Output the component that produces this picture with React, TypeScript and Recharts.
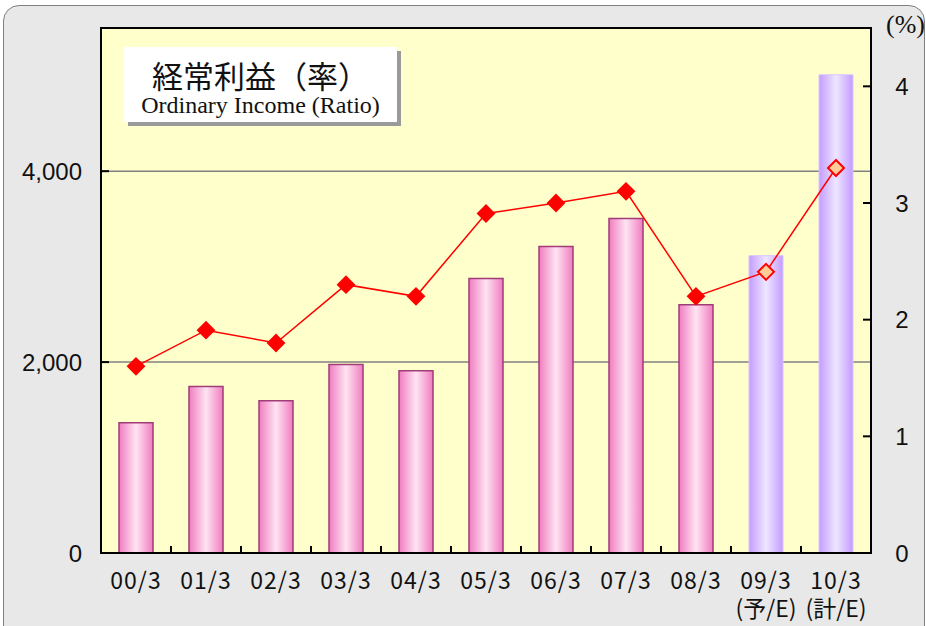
import React from 'react';
import { ComposedChart, Bar, Line, XAxis, YAxis, CartesianGrid, Cell, ReferenceArea } from 'recharts';

const categories = ['00/3', '01/3', '02/3', '03/3', '04/3', '05/3', '06/3', '07/3', '08/3', '09/3', '10/3'];
const subLabels = ['', '', '', '', '', '', '', '', '', '(予/E)', '(計/E)'];
const incomeValues = [1365, 1745, 1595, 1975, 1910, 2875, 3210, 3505, 2600, 3115, 5010];
const ratioValues = [1.6, 1.91, 1.8, 2.3, 2.2, 2.91, 3.0, 3.1, 2.2, 2.41, 3.3];
const isEstimate = [false, false, false, false, false, false, false, false, false, true, true];
const leftTicks = [0, 2000, 4000];
const rightTicks = [0, 1, 2, 3, 4];

const data = categories.map((c, i) => ({
  name: c,
  sub: subLabels[i],
  income: incomeValues[i],
  ratio: ratioValues[i],
  est: isEstimate[i],
}));

const AXIS_FONT = '"Noto Sans CJK JP", "Noto Sans", sans-serif';
const NUM_FONT = '"Liberation Sans", Arial, sans-serif';

const LeftTick = (props: any) => {
  const { x, y, payload } = props;
  return (
    <g>
      {payload.value !== 0 && <line x1={x} y1={y} x2={x + 8} y2={y} stroke="#000" strokeWidth={2} />}
      <text x={x - 19} y={y} dy="0.36em" textAnchor="end" fontSize={24} fontFamily={NUM_FONT} fill="#111">
        {payload.value.toLocaleString('en-US')}
      </text>
    </g>
  );
};

const RightTick = (props: any) => {
  const { x, y, payload } = props;
  return (
    <g>
      {payload.value !== 0 && <line x1={x} y1={y} x2={x - 8} y2={y} stroke="#000" strokeWidth={2} />}
      <text x={x + 31} y={y} dy="0.36em" textAnchor="middle" fontSize={24} fontFamily={NUM_FONT} fill="#111">
        {payload.value}
      </text>
    </g>
  );
};

const BottomTick = (props: any) => {
  const { x, y, payload, index, width, visibleTicksCount } = props;
  const n = visibleTicksCount || categories.length;
  const band = (typeof width === 'number' ? width : 770) / n;
  const sub = subLabels[index] || '';
  return (
    <g>
      {index < n - 1 && (
        <line x1={x + band / 2} y1={y} x2={x + band / 2} y2={y - 7} stroke="#000" strokeWidth={2} />
      )}
      <text x={x} y={y + 28} textAnchor="middle" fontSize={23} fontFamily={AXIS_FONT} fill="#111">
        <tspan x={x} dy="0.36em" letterSpacing={1}>{payload.value}</tspan>
        {sub && (
          <tspan x={x} dy={28}>{sub}</tspan>
        )}
      </text>
    </g>
  );
};

const Diamond = (props: any) => {
  const { cx, cy, index } = props;
  if (cx == null || cy == null) return null;
  const r = 8;
  const est = isEstimate[index];
  return (
    <path
      key={`d-${index}`}
      d={`M${cx},${cy - r}L${cx + r},${cy}L${cx},${cy + r}L${cx - r},${cy}Z`}
      fill={est ? '#FFCC99' : '#FF0000'}
      stroke="#FF0000"
      strokeWidth={2}
    />
  );
};

export default function App() {
  return (
    <div style={{ position: 'absolute', left: 0, top: 0, width: 926, height: 626, overflow: 'hidden', background: '#fff' }}>
      <div
        style={{
          position: 'absolute',
          left: 3,
          top: 5,
          width: 920,
          height: 660,
          border: '1.5px solid #808080',
          borderRadius: 16,
          background: '#E8E8E8',
        }}
      />
      <div style={{ position: 'absolute', left: 0, top: 0 }}>
        <ComposedChart width={926} height={626} data={data} margin={{ top: 28, right: 0, bottom: 0, left: 0 }} barCategoryGap={0}>
          <defs>
            <linearGradient id="pinkGrad" x1="0" y1="0" x2="1" y2="0">
              <stop offset="0%" stopColor="#F07CC0" />
              <stop offset="50%" stopColor="#FFE4F2" />
              <stop offset="100%" stopColor="#F07CC0" />
            </linearGradient>
            <linearGradient id="purpleGrad" x1="0" y1="0" x2="1" y2="0">
              <stop offset="0%" stopColor="#C49CFF" />
              <stop offset="50%" stopColor="#EEE6FF" />
              <stop offset="100%" stopColor="#C49CFF" />
            </linearGradient>
          </defs>
          <CartesianGrid yAxisId="left" vertical={false} stroke="#808080" strokeWidth={1.5} fill="#FFFFCC" />
          <XAxis
            dataKey="name"
            height={73}
            axisLine={{ stroke: '#000', strokeWidth: 2 }}
            tickLine={false}
            tickSize={0}
            tickMargin={0}
            interval={0}
            tick={<BottomTick />}
          />
          <YAxis
            yAxisId="left"
            orientation="left"
            width={101}
            domain={[0, 5500]}
            ticks={leftTicks}
            axisLine={{ stroke: '#000', strokeWidth: 2 }}
            tickLine={false}
            tickSize={0}
            tickMargin={0}
            tick={<LeftTick />}
          />
          <YAxis
            yAxisId="right"
            orientation="right"
            width={55}
            domain={[0, 4.5]}
            ticks={rightTicks}
            axisLine={{ stroke: '#000', strokeWidth: 2 }}
            tickLine={false}
            tickSize={0}
            tickMargin={0}
            tick={<RightTick />}
          />
          <Bar yAxisId="left" dataKey="income" barSize={34} isAnimationActive={false}>
            {data.map((d, i) => (
              <Cell
                key={i}
                fill={d.est ? 'url(#purpleGrad)' : 'url(#pinkGrad)'}
                stroke={d.est ? '#D9C4FF' : '#A03C78'}
                strokeWidth={d.est ? 1 : 1.5}
              />
            ))}
          </Bar>
          <Line
            yAxisId="right"
            dataKey="ratio"
            stroke="#FF0000"
            strokeWidth={1.5}
            dot={<Diamond />}
            activeDot={false}
            isAnimationActive={false}
          />
          <ReferenceArea yAxisId="left" y1={0} y2={5500} fill="none" stroke="#000" strokeWidth={2} />
        </ComposedChart>
      </div>
      <div
        style={{
          position: 'absolute',
          left: 124,
          top: 47,
          width: 273,
          height: 75,
          background: '#fff',
          boxShadow: '4px 4px 0 #9a9a9a',
          textAlign: 'center',
          color: '#111',
          paddingTop: 11,
          boxSizing: 'border-box',
        }}
      >
        <span style={{ fontFamily: AXIS_FONT, fontSize: 31, lineHeight: '34px' }}>経常利益（率）</span>
        <br />
        <span style={{ fontFamily: '"Liberation Serif", "DejaVu Serif", serif', fontSize: 24, lineHeight: '26px' }}>
          Ordinary Income (Ratio)
        </span>
      </div>
      <div
        style={{
          position: 'absolute',
          left: 886,
          top: 10,
          fontFamily: '"Liberation Serif", "DejaVu Serif", serif',
          fontSize: 26,
          color: '#111',
        }}
      >
        (%)
      </div>
    </div>
  );
}
